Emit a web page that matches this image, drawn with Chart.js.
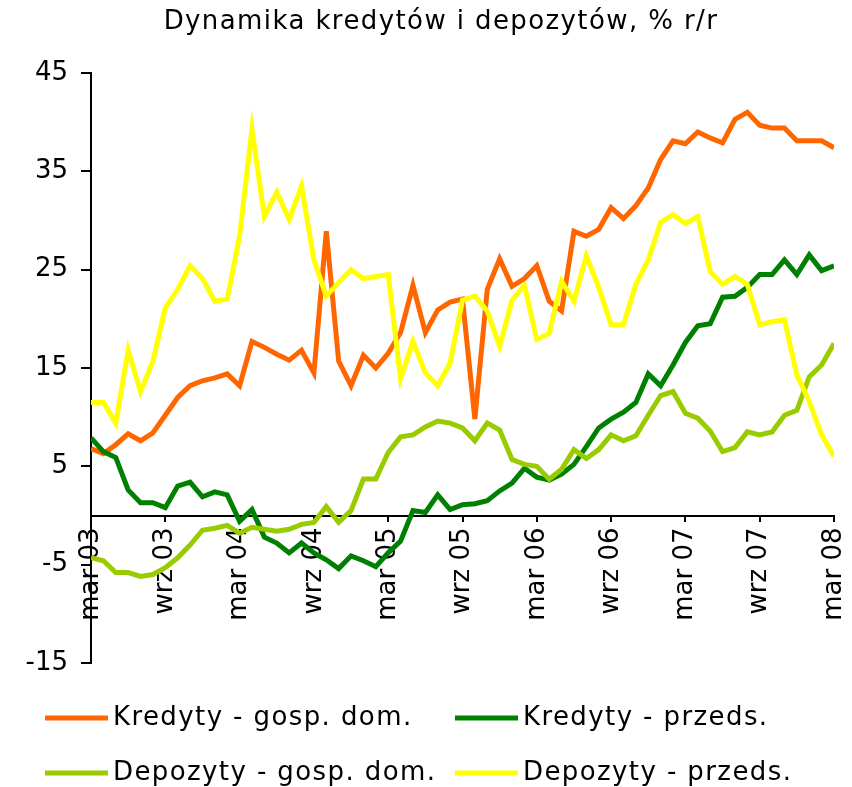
<!DOCTYPE html>
<html>
<head>
<meta charset="utf-8">
<script src="https://cdn.jsdelivr.net/npm/chart.js@4/dist/chart.umd.min.js"></script>
<style>
  html, body { margin: 0; padding: 0; background: #fff; }
  #wrap { width: 852px; height: 787px; position: relative; }
</style>
</head>
<body>
<div id="wrap"><canvas id="c" width="852" height="787"></canvas></div>
<script>
const titleText = 'Dynamika kredytów i depozytów, % r/r';
const xTickLabels = ['mar 03','wrz 03','mar 04','wrz 04','mar 05','wrz 05','mar 06','wrz 06','mar 07','wrz 07','mar 08'];
const seriesNames = ['Kredyty - gosp. dom.', 'Kredyty - przeds.', 'Depozyty - gosp. dom.', 'Depozyty - przeds.'];

const kredytyGosp = [6.8,6.3,7.2,8.3,7.6,8.4,10.2,12.0,13.2,13.7,14.0,14.4,13.2,17.7,17.1,16.4,15.8,16.8,14.5,28.9,
  15.7,13.2,16.3,15.0,16.5,18.6,23.4,18.6,20.9,21.7,22.0,9.8,23.0,26.1,23.3,24.1,25.4,21.8,20.8,28.9,
  28.4,29.1,31.3,30.2,31.5,33.3,36.2,38.1,37.8,39.0,38.4,37.9,40.3,41.0,39.7,39.4,39.4,38.1,38.1,38.1,37.4];
const kredytyPrzeds = [7.9,6.5,5.9,2.6,1.3,1.3,0.8,3.0,3.4,1.9,2.4,2.1,-0.6,0.6,-2.2,-2.8,-3.8,-2.8,-3.8,-4.5,
  -5.4,-4.1,-4.6,-5.2,-3.8,-2.6,0.5,0.3,2.1,0.6,1.1,1.2,1.5,2.5,3.3,4.8,3.9,3.6,4.2,5.2,
  7.0,8.9,9.8,10.5,11.5,14.4,13.2,15.3,17.6,19.3,19.5,22.2,22.3,23.2,24.5,24.5,26.0,24.5,26.5,24.9,25.4];
const depozytyGosp = [-4.3,-4.6,-5.8,-5.8,-6.2,-6.0,-5.3,-4.3,-3.0,-1.5,-1.3,-1.0,-1.8,-1.2,-1.4,-1.6,-1.4,-0.9,-0.7,0.9,
  -0.7,0.5,3.7,3.7,6.4,8.0,8.2,9.0,9.6,9.4,8.9,7.6,9.4,8.7,5.7,5.2,5.0,3.7,4.7,6.7,
  5.8,6.7,8.2,7.6,8.1,10.2,12.2,12.6,10.4,9.9,8.6,6.5,6.9,8.5,8.2,8.5,10.2,10.7,14.1,15.3,17.5];
const depozytyPrzeds = [11.5,11.5,9.4,16.8,12.6,15.7,21.1,23.0,25.4,24.1,21.8,22.0,28.4,39.3,30.4,32.9,30.1,33.5,26.0,22.3,
  23.7,25.0,24.1,24.3,24.5,13.9,17.7,14.5,13.2,15.5,21.9,22.3,20.8,17.2,21.9,23.4,17.9,18.5,23.8,21.8,
  26.4,23.2,19.4,19.4,23.5,26.0,29.8,30.6,29.7,30.4,24.8,23.5,24.3,23.5,19.4,19.7,19.9,14.3,11.6,8.2,6.0];

const colors = ['#FF6600', '#008000', '#99CC00', '#FFFF00'];
const FONT = 'DejaVu Sans';

function toXY(arr) { return arr.map((v, i) => ({ x: i, y: v })); }

const allSeries = [kredytyGosp, kredytyPrzeds, depozytyGosp, depozytyPrzeds];
const datasets = allSeries.map((s, k) => ({
  label: seriesNames[k],
  data: toXY(s),
  borderColor: colors[k],
  backgroundColor: colors[k],
  borderWidth: 5,
  pointRadius: 0,
  tension: 0,
  fill: false,
  order: 4 - k
}));

const textPlugin = {
  id: 'titleAndLegend',
  afterDraw(chart) {
    const ctx = chart.ctx;
    const colX = [45, 455];
    const rowY = [718, 773];
    chart.data.datasets.forEach((ds, k) => {
      const x = colX[k % 2];
      const y = rowY[Math.floor(k / 2)];
      ctx.save();
      ctx.setLineDash([]);
      ctx.lineCap = 'butt';
      ctx.strokeStyle = ds.borderColor;
      ctx.lineWidth = 5;
      ctx.beginPath();
      ctx.moveTo(x, y);
      ctx.lineTo(x + 63, y);
      ctx.stroke();
      ctx.restore();
    });
    ctx.save();
    ctx.font = '26px "' + FONT + '"';
    try { ctx.letterSpacing = '1.4px'; } catch (e) {}
    ctx.fillStyle = '#000';
    ctx.textBaseline = 'middle';
    ctx.textAlign = 'center';
    ctx.fillText(titleText, 441, 22);
    ctx.textAlign = 'left';
    chart.data.datasets.forEach((ds, k) => {
      const x = colX[k % 2];
      const y = rowY[Math.floor(k / 2)];
      ctx.fillText(ds.label, x + 68, y);
    });
    ctx.restore();
  }
};

new Chart(document.getElementById('c'), {
  type: 'line',
  data: { datasets },
  options: {
    responsive: false,
    animation: false,
    events: [],
    layout: { padding: { left: 0, right: 18, top: 73, bottom: 124 } },
    plugins: {
      legend: { display: false },
      tooltip: { enabled: false },
      title: { display: false }
    },
    scales: {
      x: {
        type: 'linear',
        min: 0,
        max: 60,
        position: { y: 0 },
        afterFit: (s) => { s.paddingLeft = 0; s.paddingRight = 0; },
        grid: { drawOnChartArea: false, drawTicks: true, tickLength: 5, color: '#000', lineWidth: 2 },
        border: { display: true, color: '#000', width: 2 },
        ticks: {
          stepSize: 6,
          autoSkip: false,
          maxRotation: 90,
          minRotation: 90,
          padding: 7,
          color: '#000',
          font: { family: FONT, size: 26 },
          callback: (v) => xTickLabels[v / 6] || ''
        }
      },
      y: {
        min: -15,
        max: 45,
        afterFit: (s) => { s.width = 91; s.paddingTop = 0; s.paddingBottom = 0; },
        grid: { drawOnChartArea: false, drawTicks: true, tickLength: 10, color: '#000', lineWidth: 2 },
        border: { display: true, color: '#000', width: 2 },
        ticks: {
          stepSize: 10,
          padding: 13,
          color: '#000',
          font: { family: FONT, size: 26 }
        }
      }
    }
  },
  plugins: [textPlugin]
});
</script>
</body>
</html>
